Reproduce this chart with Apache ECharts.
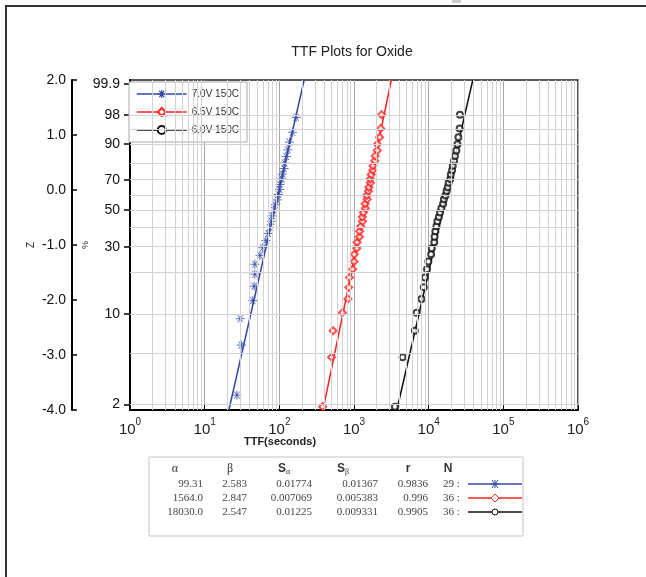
<!DOCTYPE html>
<html>
<head>
<meta charset="utf-8">
<title>TTF Plots for Oxide</title>
<script src="https://cdn.jsdelivr.net/npm/echarts@6/dist/echarts.min.js"></script>
<style>
html, body { margin: 0; padding: 0; background: #fff; }
#chart { width: 646px; height: 577px; }
</style>
</head>
<body>
<div id="chart"></div>
<script>
'use strict';

// --- data ---
var seriesNames = ['7.0V 150C', '6.5V 150C', '6.0V 150C'];

// 7.0V: time to failure (s) and Weibull Z of each point
var blueT = [27, 31, 30, 44, 46, 47, 47, 55, 60, 66, 71, 74, 78, 80, 84, 88, 94, 97, 101, 102, 108, 110, 116, 118, 124, 130, 137, 150, 168];
var blueZ = [-3.73, -2.82, -2.34, -2.01, -1.75, -1.53, -1.35, -1.19, -1.05, -0.92, -0.79, -0.68, -0.57, -0.47, -0.37, -0.27, -0.18, -0.08, 0.01, 0.10, 0.20, 0.29, 0.39, 0.49, 0.61, 0.73, 0.87, 1.05, 1.32];

// 6.5V
var redT = [380, 500, 525, 700, 830, 850, 870, 960, 1000, 1010, 1090, 1100, 1180, 1190, 1230, 1300, 1290, 1340, 1420, 1410, 1500, 1480, 1560, 1580, 1660, 1650, 1700, 1790, 1800, 1900, 1920, 2050, 2060, 2200, 2280, 2340];
var redZ = [-3.94, -3.04, -2.56, -2.23, -1.98, -1.77, -1.59, -1.44, -1.30, -1.17, -1.06, -0.95, -0.85, -0.75, -0.66, -0.57, -0.49, -0.41, -0.33, -0.25, -0.17, -0.10, -0.02, 0.05, 0.13, 0.20, 0.28, 0.36, 0.44, 0.53, 0.62, 0.72, 0.83, 0.96, 1.12, 1.37];

// 6.0V
var blackT = [3530, 4470, 6530, 6900, 8000, 8600, 8900, 9500, 9900, 10800, 11000, 11900, 12000, 12300, 12700, 13100, 13700, 14200, 14800, 15600, 16000, 16800, 17400, 18000, 18500, 19500, 19800, 20600, 21000, 21900, 22500, 23500, 24300, 25000, 26000, 26200];
var blackZ = [-3.94, -3.04, -2.56, -2.23, -1.98, -1.77, -1.59, -1.44, -1.30, -1.17, -1.06, -0.95, -0.85, -0.75, -0.66, -0.57, -0.49, -0.41, -0.33, -0.25, -0.17, -0.10, -0.02, 0.05, 0.13, 0.20, 0.28, 0.36, 0.44, 0.53, 0.62, 0.72, 0.83, 0.96, 1.12, 1.37];

// fitted lines, end points
var fitZ = [-4, 2];
var blueFitT = [21.1, 215];
var redFitT = [384, 3160];
var blackFitT = [3750, 39000];

// percent scale
var pctLabels = [99.9, 98, 90, 70, 50, 30, 10, 2];
var pctGrid = [98, 95, 90, 80, 70, 60, 50, 40, 30, 20, 10, 5, 2];

// table under the chart
var tblAlpha = ['99.31', '1564.0', '18030.0'];
var tblBeta = ['2.583', '2.847', '2.547'];
var tblSa = ['0.01774', '0.007069', '0.01225'];
var tblSb = ['0.01367', '0.005383', '0.009331'];
var tblR = ['0.9836', '0.996', '0.9905'];
var tblN = [29, 36, 36];

// --- chart ---
var BLUE = '#3349a8', RED = '#ff2424', BLACK = '#111';
var colors = [BLUE, RED, BLACK];
var FONT = '"Liberation Sans", Arial, sans-serif';
var SERIF = '"Liberation Serif", "Times New Roman", serif';
var starPath = 'path://M0,5L10,5M5,0L5,10M2,1L8,9M8,1L2,9';

function pctToZ(p) { return Math.log(-Math.log(1 - p / 100)); }
function pairs(t, z) { return t.map(function (v, i) { return [v, z[i]]; }); }

var minorX = [];
for (var k = 0; k < 6; k++) {
	for (var m = 2; m < 10; m++) minorX.push(m * Math.pow(10, k));
}
var gridLines = pctGrid.map(function (p) { return { yAxis: pctToZ(p) }; })
	.concat(minorX.map(function (v) { return { xAxis: v }; }));

var symbols = [starPath, 'emptyDiamond', 'emptyCircle'];
var symbolSizes = [9, 7, 6];
var itemStyles = [
	{ color: 'transparent', borderColor: BLUE, borderWidth: 1 },
	{ color: RED, borderWidth: 1 },
	{ color: BLACK, borderWidth: 1 }
];
var fits = [blueFitT, redFitT, blackFitT];
var pts = [pairs(blueT, blueZ), pairs(redT, redZ), pairs(blackT, blackZ)];

var series = [{
	type: 'line', data: [[1, -4]], showSymbol: false, silent: true, z: 1,
	lineStyle: { width: 0 }, yAxisIndex: 1,
	markLine: {
		silent: true, symbol: ['none', 'none'], label: { show: false },
		lineStyle: { color: '#d2d2d2', width: 1, type: 'solid' },
		emphasis: { disabled: true }, animation: false,
		data: gridLines
	}
}];
for (var i = 0; i < 3; i++) {
	series.push({
		name: seriesNames[i], type: 'line', yAxisIndex: 1, z: 3,
		data: pairs(fits[i], fitZ), showSymbol: false,
		symbol: symbols[i], symbolSize: symbolSizes[i],
		lineStyle: { color: colors[i], width: 1.5 },
		itemStyle: itemStyles[i]
	});
	series.push({
		name: seriesNames[i], type: 'scatter', yAxisIndex: 1, z: 4,
		data: pts[i], symbol: symbols[i], symbolSize: symbolSizes[i],
		itemStyle: itemStyles[i]
	});
}

var legendData = seriesNames.map(function (n, j) {
	return {
		name: n,
		itemStyle: j === 0
			? { color: 'transparent', borderColor: BLUE, borderWidth: 1.2 }
			: { color: colors[j], borderColor: colors[j], borderWidth: 1.2 },
		lineStyle: { color: colors[j], width: 1.5, type: 'solid' }
	};
});

// frame, titles and the fit table
var g = [];
g.push({ type: 'rect', shape: { x: 6, y: 6, width: 700, height: 700 }, style: { fill: 'none', stroke: '#333', lineWidth: 2 } });
g.push({ type: 'rect', shape: { x: 452, y: 0, width: 9, height: 3 }, style: { fill: '#ccc' } });
g.push({ type: 'text', x: 352, y: 52, style: { text: 'TTF Plots for Oxide', fontSize: 14, fontFamily: FONT, fill: '#222', align: 'center', verticalAlign: 'middle' } });
g.push({ type: 'text', x: 280, y: 442, style: { text: 'TTF(seconds)', fontSize: 11, fontWeight: 'bold', fontFamily: FONT, fill: '#222', align: 'center', verticalAlign: 'middle' } });
g.push({ type: 'rect', shape: { x: 149, y: 457, width: 374, height: 79 }, style: { fill: '#fff', stroke: '#c4c4c4', lineWidth: 1 } });

var headRich = {
	h: { fontSize: 12, fontWeight: 'bold', fontFamily: FONT, fill: '#333' },
	g: { fontSize: 12, fontFamily: SERIF, fill: '#333' },
	sub: { fontSize: 8, fontFamily: SERIF, fill: '#333', padding: [6, 0, 0, 0] }
};
var heads = [[175, '{g|α}'], [230, '{g|β}'], [284, '{h|S}{sub|α}'], [343, '{h|S}{sub|β}'], [408, '{h|r}'], [448, '{h|N}']];
heads.forEach(function (h) {
	g.push({ type: 'text', x: h[0], y: 469, style: { text: h[1], rich: headRich, align: 'center', verticalAlign: 'middle' } });
});
var rowY = [484, 498, 512];
var cols = [[203, tblAlpha], [247, tblBeta], [312, tblSa], [378, tblSb], [428, tblR]];
for (var r = 0; r < 3; r++) {
	cols.forEach(function (c) {
		g.push({ type: 'text', x: c[0], y: rowY[r], style: { text: c[1][r], fontSize: 11, fontFamily: SERIF, fill: '#444', align: 'right', verticalAlign: 'middle' } });
	});
	g.push({ type: 'text', x: 443, y: rowY[r], style: { text: tblN[r] + ' :', fontSize: 11, fontFamily: SERIF, fill: '#444', align: 'left', verticalAlign: 'middle' } });
	g.push({ type: 'line', shape: { x1: 468, y1: rowY[r], x2: 522, y2: rowY[r] }, style: { stroke: colors[r], lineWidth: 1.5 } });
}
// table line samples: markers
[[491, 484, 499, 484], [495, 480, 495, 488], [492, 480, 498, 488], [498, 480, 492, 488]].forEach(function (s) {
	g.push({ type: 'line', shape: { x1: s[0], y1: s[1], x2: s[2], y2: s[3] }, style: { stroke: BLUE, lineWidth: 1 } });
});
g.push({ type: 'polygon', shape: { points: [[495, 494], [499, 498], [495, 502], [491, 498]] }, style: { fill: '#fff', stroke: RED, lineWidth: 1 } });
g.push({ type: 'circle', shape: { cx: 495, cy: 512, r: 3 }, style: { fill: '#fff', stroke: BLACK, lineWidth: 1 } });

var option = {
	animation: false,
	backgroundColor: '#fff',
	textStyle: { fontFamily: FONT },
	grid: { left: 130, top: 80, width: 448, height: 330, show: true, borderColor: '#222', borderWidth: 1.5 },
	legend: {
		left: 129, top: 82, orient: 'vertical',
		data: legendData,
		itemWidth: 50, itemHeight: 10, itemGap: 6,
		padding: [6, 8, 6, 7],
		backgroundColor: '#fff', borderColor: '#aaa', borderWidth: 1,
		textStyle: { fontSize: 10, color: '#333', lineHeight: 12, fontFamily: FONT },
		selectedMode: false
	},
	xAxis: {
		type: 'log', logBase: 10, min: 1, max: 1e6,
		axisLine: { onZero: false, lineStyle: { color: '#000', width: 2 } },
		axisTick: { inside: true, length: 5, lineStyle: { color: '#000' } },
		axisLabel: {
			margin: 7,
			formatter: function (v) { return '{b|10}{s|' + Math.round(Math.log10(v)) + '}'; },
			rich: {
				b: { fontSize: 15, color: '#222', fontFamily: FONT, lineHeight: 20, verticalAlign: 'bottom' },
				s: { fontSize: 10, color: '#222', fontFamily: FONT, lineHeight: 10, verticalAlign: 'top' }
			}
		},
		splitLine: { show: true, lineStyle: { color: '#a8a8a8', width: 1 } }
	},
	yAxis: [{
		type: 'value', min: -4, max: 2, interval: 1, position: 'left', offset: 58,
		axisLine: { show: true, onZero: false, lineStyle: { color: '#000', width: 2 } },
		axisTick: { show: true, inside: true, length: 5, lineStyle: { color: '#000', width: 1.5 } },
		axisLabel: { formatter: function (v) { return v.toFixed(1); }, fontSize: 14, color: '#111', margin: 6 },
		splitLine: { show: false },
		name: 'Z', nameLocation: 'middle', nameGap: 36, nameMoveOverlap: false,
		nameTextStyle: { fontSize: 10, color: '#222' }
	}, {
		type: 'value', min: -4, max: 2, position: 'left', offset: 0,
		axisLine: { show: true, onZero: false, lineStyle: { color: '#000', width: 2 } },
		axisTick: { show: true, length: 6, customValues: pctLabels.map(pctToZ), lineStyle: { color: '#000', width: 1.5 } },
		axisLabel: {
			customValues: pctLabels.map(pctToZ), fontSize: 14, color: '#111', margin: 10,
			formatter: function (v) {
				for (var j = 0; j < pctLabels.length; j++) {
					if (Math.abs(pctToZ(pctLabels[j]) - v) < 1e-6) return String(pctLabels[j]);
				}
				return '';
			}
		},
		splitLine: { show: false },
		name: '%', nameLocation: 'middle', nameGap: 40, nameMoveOverlap: false,
		nameTextStyle: { fontSize: 9, color: '#222' }
	}],
	series: series,
	graphic: g
};

var chart = echarts.init(document.getElementById('chart'));
chart.setOption(option);
</script>
</body>
</html>
